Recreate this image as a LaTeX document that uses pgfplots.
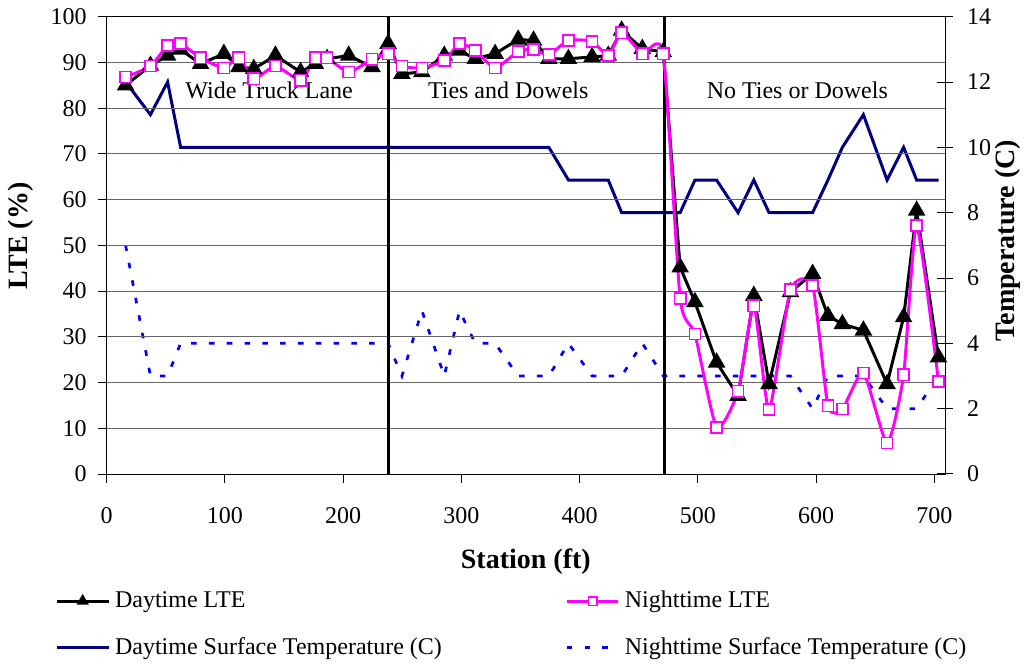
\documentclass[border=0pt]{standalone}
\usepackage{fontspec}
\setmainfont{Liberation Serif}
\usepackage{pgfplots}
\usepackage{pgfplotstable}
\pgfplotsset{compat=1.18}
\definecolor{navyc}{HTML}{000080}
\definecolor{pinkc}{HTML}{FF00FF}
\definecolor{bluec}{HTML}{0000FF}

\pgfplotstableread{
x D N
16 85.0 86.8
37 89.3 89.2
51.5 91.5 93.7
62.5 92.8 94.1
79.4 89.7 91.0
99.1 91.9 88.8
111.8 89.0 91.0
124.4 88.6 86.4
142.7 91.5 89.2
164 87.9 86.1
176.5 89.7 91.0
186.4 90.8 91.0
204.7 91.5 87.9
224.4 89.0 90.7
238 94.1 91.9
249.7 87.5 89.2
266.6 87.9 88.8
285.5 91.5 90.4
298.4 92.6 94.1
311.7 90.8 92.6
328.5 91.9 88.8
348 95.0 92.4
361 94.8 92.8
374 90.8 91.7
390.5 90.8 94.8
410.5 91.2 94.6
424.2 91.5 91.5
435.5 97.0 96.5
453 93.0 91.9
470.7 92.3 91.9
485 45.2 38.4
497.5 37.6 30.6
515.8 24.4 10.2
534 17.1 18.1
547.3 39.0 36.8
560.2 19.7 14.1
578.3 39.8 40.3
597 43.8 41.2
610 34.6 14.9
622.2 32.8 14.2
640 31.4 22.1
660 19.7 6.8
674 34.3 21.7
685 57.6 54.3
703.5 25.5 20.2
}\lte

\pgfplotstableread{
x DT NT
16 12 7
37 11 3
51.5 12 3
62.5 10 4
79.4 10 4
99.1 10 4
111.8 10 4
124.4 10 4
142.7 10 4
164 10 4
176.5 10 4
186.4 10 4
204.7 10 4
224.4 10 4
238 10 4
249.7 10 3
266.6 10 5
285.5 10 3
298.4 10 5
311.7 10 4
328.5 10 4
348 10 3
361 10 3
374 10 3
390.5 9 4
410.5 9 3
424.2 9 3
435.5 8 3
453 8 4
470.7 8 3
485 8 3
497.5 9 3
515.8 9 3
534 8 3
547.3 9 3
560.2 8 3
578.3 8 3
597 8 2
610 9 3
622.2 10 3
640 11 3
660 9 2
674 10 2
685 9 2
703.5 9 3
}\temps

\begin{document}
\begin{tikzpicture}
\path[use as bounding box] (-53.35pt,-95pt) rectangle (458.65pt,237pt);
% ---------- temperature axis (right) ----------
\begin{axis}[
  at={(0,0)}, anchor=south west,
  scale only axis, width=419.15pt, height=228.65pt,
  xmin=0, xmax=709, ymin=0, ymax=14,
  axis x line=none, axis y line*=right,
  ytick={0,2,...,14},
  tick align=center, major tick length=8pt,
  every tick/.style={black, line width=0.5pt},
  axis line style={black, line width=0.5pt},
  /pgf/number format/assume math mode=true,
  yticklabel style={font=\fontsize{12}{14}\selectfont, xshift=3.5pt},
  ylabel={Temperature (C)},
  every axis y label/.style={at={(axis description cs:1.0751,0.51)}, rotate=90, anchor=center, font=\fontsize{14}{16}\selectfont\bfseries},
]
\addplot[navyc, line width=1.5pt] table[x=x,y=DT] {\temps};
\addplot[bluec, line width=1.35pt, dash pattern=on 2.8pt off 6.1pt] table[x=x,y=NT] {\temps};
\end{axis}
% ---------- LTE axis (left) ----------
\begin{axis}[
  at={(0,0)}, anchor=south west,
  scale only axis, width=419.15pt, height=228.65pt,
  xmin=0, xmax=709, ymin=0, ymax=100,
  xtick={0,100,...,700}, ytick={0,10,...,100},
  xtick pos=bottom, ytick pos=left,
  tick align=outside, major tick length=4.5pt,
  every tick/.style={black, line width=0.5pt},
  axis line style={black, line width=0.5pt},
  ymajorgrids, grid style={black!60, line width=0.5pt},
  /pgf/number format/assume math mode=true,
  yticklabel style={font=\fontsize{12}{14}\selectfont, xshift=-2pt},
  xticklabel style={font=\fontsize{12}{14}\selectfont, yshift=-8.5pt},
  xlabel={Station (ft)},
  ylabel={LTE (\%)},
  every axis x label/.style={at={(axis description cs:0.5,-0.1924)}, anchor=center, font=\fontsize{14}{16}\selectfont\bfseries},
  every axis y label/.style={at={(axis description cs:-0.1022,0.52)}, rotate=90, anchor=center, font=\fontsize{14}{16}\selectfont\bfseries},
  legend columns=2,
  legend image code/.code={\draw[mark repeat=2,mark phase=2,#1, mark size=2.1pt] plot coordinates {(0pt,0pt) (12.9pt,0pt) (25.85pt,0pt)};},
  legend style={at={(axis description cs:-0.0617,-0.2447)}, anchor=north west, draw=none, fill=none, inner sep=0pt,
    font=\fontsize{12}{14}\selectfont, nodes={inner sep=2.5pt}, row sep=8.3pt,
    /tikz/every even column/.append style={column sep=59.15pt}},
  legend cell align=left,
]
\addplot[black, line width=1.5pt, forget plot] coordinates {(238,0) (238,100)};
\addplot[black, line width=1.5pt, forget plot] coordinates {(472,0) (472,100)};
\node[anchor=base, font=\fontsize{12}{14}\selectfont] at (axis cs:137.4,82.2) {Wide Truck Lane};
\node[anchor=base, font=\fontsize{12}{14}\selectfont] at (axis cs:339.6,82.2) {Ties and Dowels};
\node[anchor=base, font=\fontsize{12}{14}\selectfont] at (axis cs:584.1,82.2) {No Ties or Dowels};
\addplot[black, line width=1.5pt, mark=triangle*, mark size=3.6pt, mark options={fill=black, solid}] table[x=x,y=D] {\lte};
\addplot[pinkc, line width=1.5pt, smooth, tension=0.35, mark=square*, mark size=2.8pt, mark options={fill=white, draw=pinkc, line width=0.8pt, solid}] table[x=x,y=N] {\lte};
\addlegendimage{navyc, line width=1.5pt}
\addlegendimage{bluec, line width=1.35pt, dash pattern=on 2.8pt off 6.1pt}
\legend{Daytime LTE, Nighttime LTE, Daytime Surface Temperature (C), Nighttime Surface Temperature (C)}
\end{axis}
\end{tikzpicture}
\end{document}
